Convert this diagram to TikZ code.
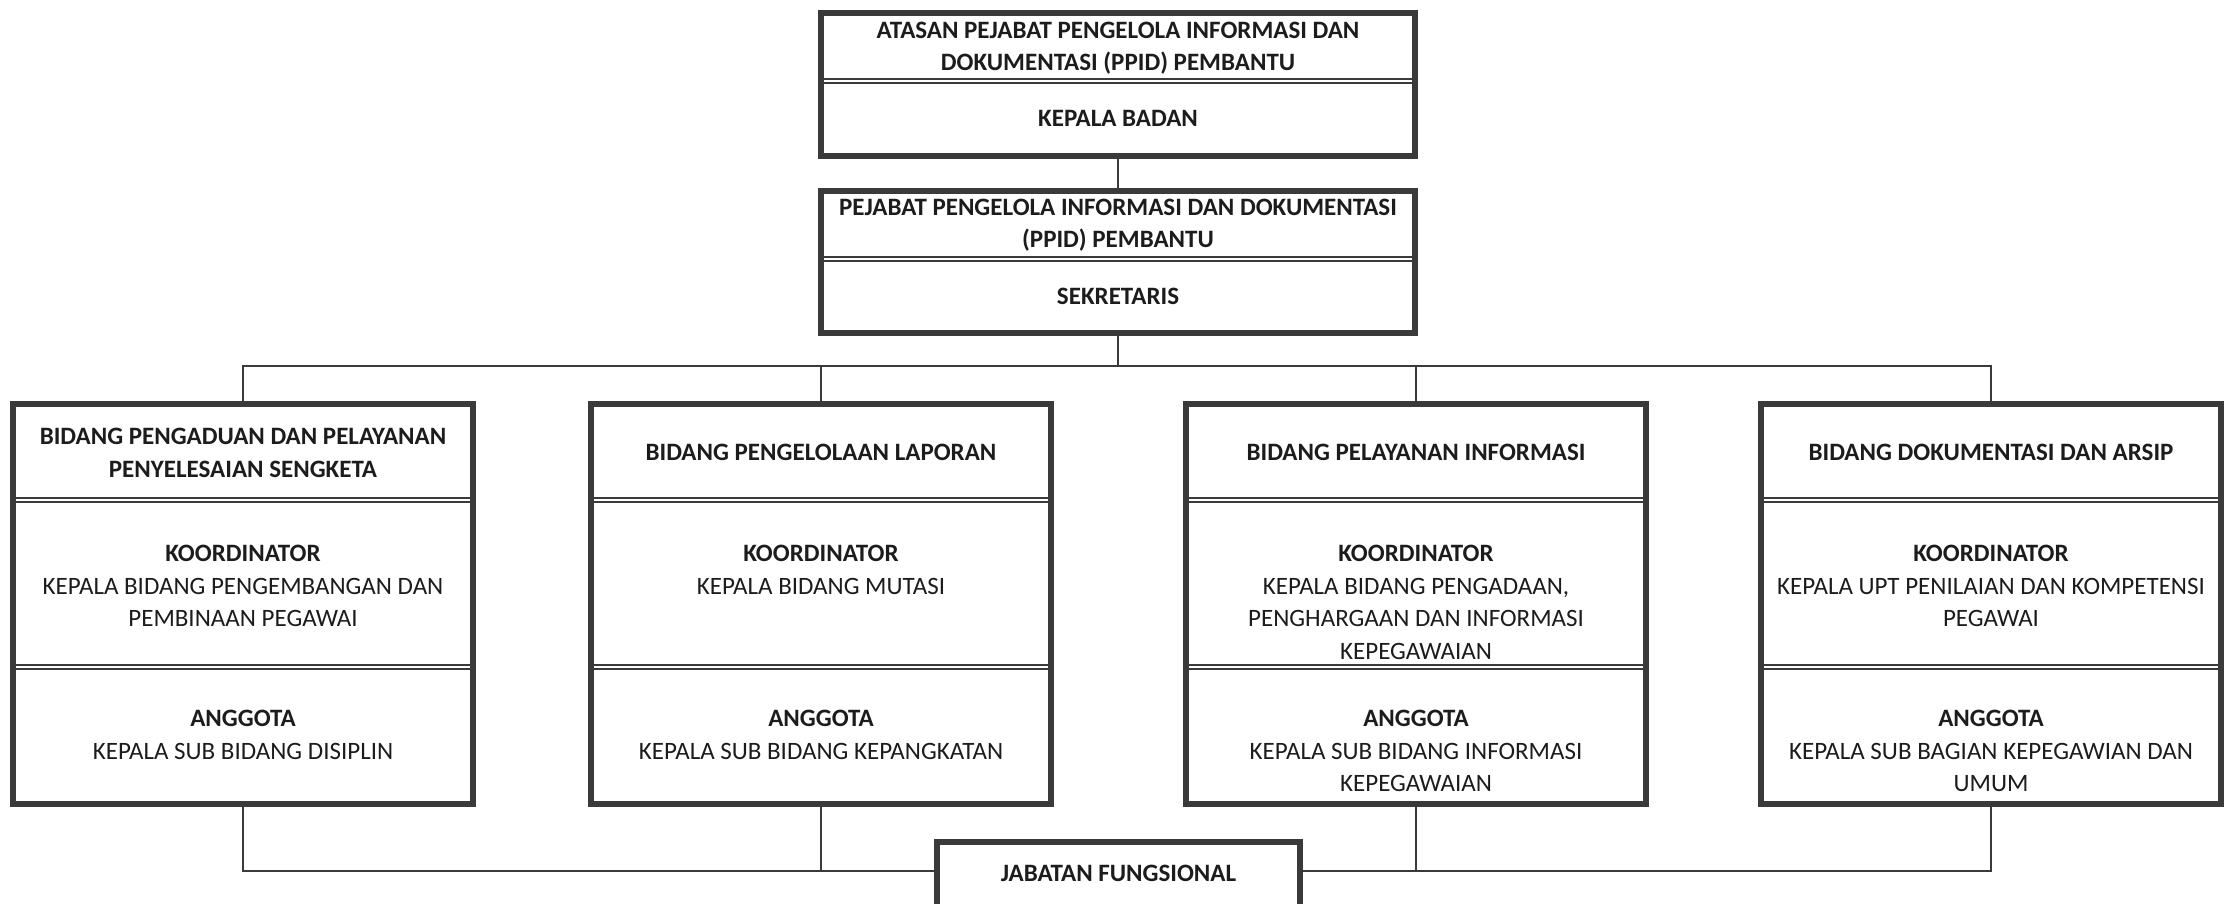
\documentclass[tikz,border=0pt]{standalone}
\usepackage{fontspec}
\setmainfont{Carlito}
\definecolor{bordc}{HTML}{3A3A3A}
\definecolor{txtc}{HTML}{1C1C1C}
\newcommand{\chartfont}{\fontsize{12.5pt}{16.25pt}\selectfont}
\begin{document}
\begin{tikzpicture}[x=0.5pt,y=-0.5pt,
  box/.style={draw=bordc, line width=3pt, rectangle, inner sep=0pt, anchor=north, fill=white},
  lowbox/.style={box, minimum width=230pt, minimum height=200pt},
  topbox/.style={box, minimum width=297pt},
  divider/.style={draw=bordc, line width=0.75pt, double=white, double distance=1.1pt},
  link/.style={draw=bordc, line width=1pt},
  title/.style={font=\chartfont\bfseries, text=txtc, align=center, inner sep=0pt},
  body/.style={font=\chartfont, text=txtc, align=center, inner sep=0pt, anchor=north},
]
\useasboundingbox (0,0) rectangle (2229,904);
\clip (0,0) rectangle (2229,904);
\fill[white] (0,0) rectangle (2229,904);

% top boxes
\node[topbox, minimum height=71.5pt] (atasan) at (1118,10) {};
\draw[divider] (824,81) -- (1412,81);
\node[title] (atasanT) at (1118,48) {ATASAN PEJABAT PENGELOLA INFORMASI DAN\\DOKUMENTASI (PPID) PEMBANTU};
\node[title] (kepala) at (1118,118) {KEPALA BADAN};

\node[topbox, minimum height=71pt] (ppid) at (1118,188) {};
\draw[divider] (824,259) -- (1412,259);
\node[title] (ppidT) at (1118,225) {PEJABAT PENGELOLA INFORMASI DAN DOKUMENTASI\\(PPID) PEMBANTU};
\node[title] (sekr) at (1118,296) {SEKRETARIS};

% lower boxes
\foreach \n/\cx in {b1/243, b2/821, b3/1416, b4/1991}{
  \node[lowbox] (\n) at (\cx,401) {};
  \draw[divider] (\cx-227,500) -- (\cx+227,500);
  \draw[divider] (\cx-227,667) -- (\cx+227,667);
}

\node[title] (b1T) at (243,453) {BIDANG PENGADUAN DAN PELAYANAN\\PENYELESAIAN SENGKETA};
\node[body] (b1K) at (243,545) {\textbf{KOORDINATOR}\\KEPALA BIDANG PENGEMBANGAN DAN\\PEMBINAAN PEGAWAI};
\node[body] (b1A) at (243,710) {\textbf{ANGGOTA}\\KEPALA SUB BIDANG DISIPLIN};

\node[title] (b2T) at (821,452) {BIDANG PENGELOLAAN LAPORAN};
\node[body] (b2K) at (821,545) {\textbf{KOORDINATOR}\\KEPALA BIDANG MUTASI};
\node[body] (b2A) at (821,710) {\textbf{ANGGOTA}\\KEPALA SUB BIDANG KEPANGKATAN};

\node[title] (b3T) at (1416,452) {BIDANG PELAYANAN INFORMASI};
\node[body] (b3K) at (1416,545) {\textbf{KOORDINATOR}\\KEPALA BIDANG PENGADAAN,\\PENGHARGAAN DAN INFORMASI\\KEPEGAWAIAN};
\node[body] (b3A) at (1416,710) {\textbf{ANGGOTA}\\KEPALA SUB BIDANG INFORMASI\\KEPEGAWAIAN};

\node[title] (b4T) at (1991,452) {BIDANG DOKUMENTASI DAN ARSIP};
\node[body] (b4K) at (1991,545) {\textbf{KOORDINATOR}\\KEPALA UPT PENILAIAN DAN KOMPETENSI\\PEGAWAI};
\node[body] (b4A) at (1991,710) {\textbf{ANGGOTA}\\KEPALA SUB BAGIAN KEPEGAWIAN DAN\\UMUM};

% bottom box (cut by the page edge)
\node[box, minimum width=181.5pt, minimum height=62pt] (jab) at (1118.5,839) {};
\node[title] (jabT) at (1118.5,873) {JABATAN FUNGSIONAL};

% connectors
\coordinate (busT) at (1118,366);
\coordinate (busB) at (1118,871);
\draw[link] (atasan.south) -- (ppid.north);
\draw[link] (ppid.south) -- (busT);
\draw[link] (b1.north) |- (busT) -| (b4.north);
\draw[link] (b2.north) -- (b2.north |- busT);
\draw[link] (b3.north) -- (b3.north |- busT);
\draw[link] (b1.south) |- (jab.west |- busB);
\draw[link] (b2.south) -- (b2.south |- busB);
\draw[link] (b4.south) |- (jab.east |- busB);
\draw[link] (b3.south) -- (b3.south |- busB);
\end{tikzpicture}
\end{document}
